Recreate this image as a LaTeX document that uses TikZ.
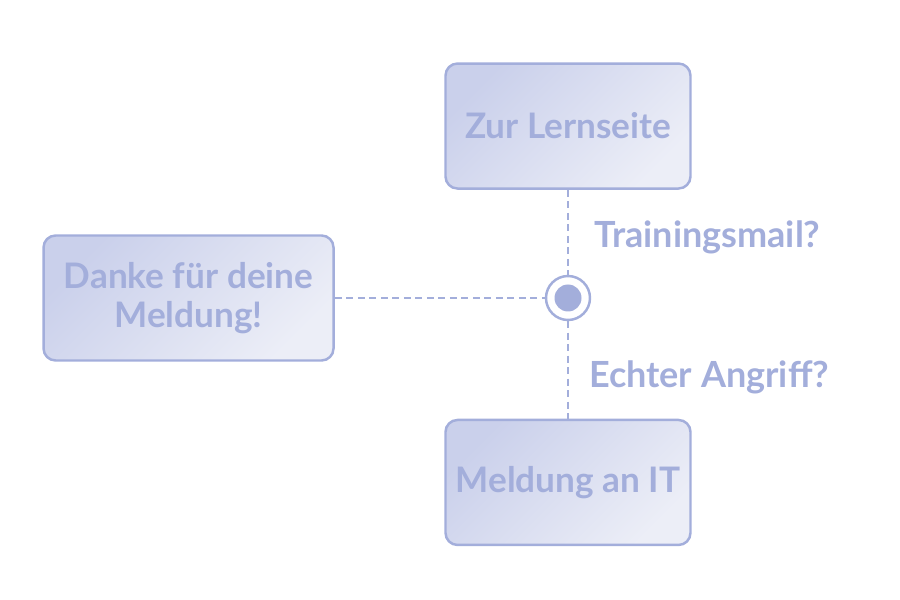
\documentclass[tikz,border=0pt]{standalone}
\usepackage{fontspec}
\setmainfont{Lato}
\usetikzlibrary{positioning}
\definecolor{flowline}{HTML}{A3AEDB}
\definecolor{boxdark}{HTML}{CAD0EB}
\definecolor{boxlight}{HTML}{ECEEF7}

\begin{document}
\begin{tikzpicture}[
        node distance=1.7cm and 4.2cm,
        every node/.style={font=\fontsize{20}{22}\selectfont\bfseries, text=flowline},
        stepbox/.style={draw=flowline, line width=1.4pt, rounded corners=0.24cm, top color=boxdark, bottom color=boxlight, shading angle=45, minimum height=2.5cm, align=center},
        hub/.style={circle, draw=flowline, line width=1.4pt, fill=white, minimum size=0.88cm, inner sep=0pt},
        hubdot/.style={circle, fill=flowline, minimum size=0.54cm, inner sep=0pt},
        link/.style={flowline, line width=1.2pt, dash pattern=on 0.14cm off 0.09cm},
        question/.style={anchor=west, inner sep=0pt, font=\fontsize{20.5}{25}\selectfont\bfseries}
    ]
    \useasboundingbox (0,0) rectangle (18,12);

    % decision point
    \node[hub] (hub) at (11.36,6.04) {};
    \node[hubdot] (dot) at (hub.center) {};

    % outcomes
    \node[stepbox, minimum width=4.9cm, above=1.7cm of hub] (learn) {Zur Lernseite};
    \node[stepbox, minimum width=5.8cm, left=4.2cm of hub] (thanks) {Danke für deine\\Meldung!};
    \node[stepbox, minimum width=4.9cm, below=1.95cm of hub] (report) {Meldung an IT};

    % connectors
    \draw[link] (learn) -- node[question, xshift=0.5cm, yshift=-0.1cm] (qtrain) {Trainingsmail?} (hub);
    \draw[link] (thanks) -- (hub);
    \draw[link] (hub) -- node[question, xshift=0.4cm, yshift=-0.14cm] (qattack) {Echter Angriff?} (report);

\end{tikzpicture}
\end{document}
